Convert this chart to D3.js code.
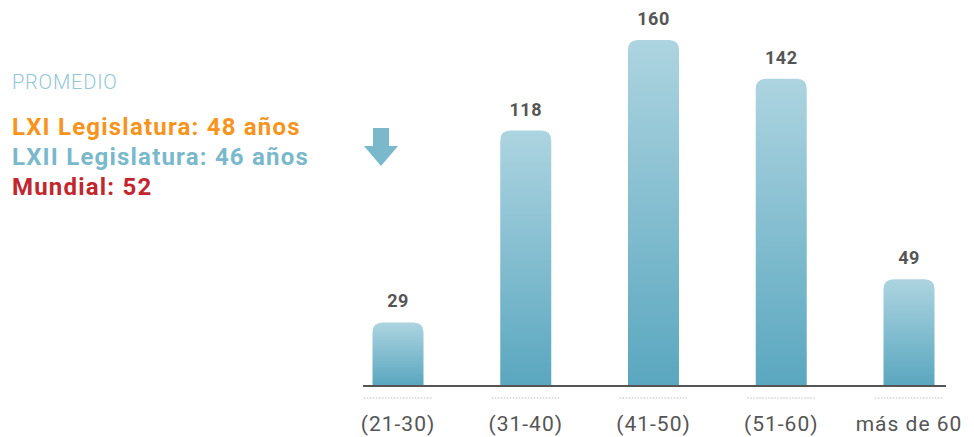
<!DOCTYPE html>
<html>
<head>
<meta charset="utf-8">
<script src="https://cdn.jsdelivr.net/npm/d3@7"></script>
<style>
  body { margin: 0; background: #fff; }
  text { font-family: Roboto, "DejaVu Sans", sans-serif; }
</style>
</head>
<body>
<svg id="chart"></svg>
<script>
var width = 974;
var height = 437;

// datos
var categories = ["(21-30)", "(31-40)", "(41-50)", "(51-60)", "más de 60"];
var values = [29, 118, 160, 142, 49];
var legendLines = [
  { text: "LXI Legislatura: 48 años", color: "#f7941d" },
  { text: "LXII Legislatura: 46 años", color: "#7ab8cc" },
  { text: "Mundial: 52", color: "#c1272d" }
];

var baseline = 385;
var plotTop = 40;

var svg = d3.select("#chart")
    .attr("width", width)
    .attr("height", height);

var defs = svg.append("defs");
var grad = defs.append("linearGradient")
    .attr("id", "barGrad")
    .attr("x1", 0).attr("y1", 0)
    .attr("x2", 0).attr("y2", 1);
grad.append("stop").attr("offset", "0%").attr("stop-color", "#add4e0");
grad.append("stop").attr("offset", "100%").attr("stop-color", "#5aa7bf");

var xScale = d3.scalePoint()
    .domain(categories)
    .range([398, 909]);

var yScale = d3.scaleLinear()
    .domain([0, d3.max(values)])
    .range([baseline, plotTop]);

var barWidth = 51;
var r = 10;

function barPath(d, i) {
  var cx = xScale(categories[i]);
  var x0 = cx - barWidth / 2, x1 = cx + barWidth / 2;
  var y0 = yScale(d);
  return "M" + x0 + "," + baseline +
    "V" + (y0 + r) +
    "Q" + x0 + "," + y0 + " " + (x0 + r) + "," + y0 +
    "H" + (x1 - r) +
    "Q" + x1 + "," + y0 + " " + x1 + "," + (y0 + r) +
    "V" + baseline + "Z";
}

var bars = svg.selectAll(".bar")
    .data(values)
    .enter()
    .append("g")
      .classed("bar", true);

bars.append("path")
    .attr("d", barPath)
    .attr("fill", "url(#barGrad)");

bars.append("text")
    .attr("x", (d, i) => xScale(categories[i]))
    .attr("y", d => yScale(d) - 15)
    .attr("text-anchor", "middle")
    .attr("font-size", 18)
    .attr("font-weight", "bold")
    .attr("letter-spacing", 0.5)
    .attr("fill", "#555")
    .text(d => d);

// eje
svg.append("line")
    .attr("x1", 363).attr("x2", 946)
    .attr("y1", baseline + 1).attr("y2", baseline + 1)
    .attr("stroke", "#555")
    .attr("stroke-width", 2);

var labels = svg.selectAll(".cat")
    .data(categories)
    .enter()
    .append("g")
      .classed("cat", true);

labels.append("line")
    .attr("x1", d => xScale(d) - 34)
    .attr("x2", d => xScale(d) + 34)
    .attr("y1", 398).attr("y2", 398)
    .attr("stroke", "#bbb")
    .attr("stroke-width", 1)
    .attr("stroke-dasharray", "1.5,1.5");

labels.append("text")
    .attr("x", d => xScale(d))
    .attr("y", 431)
    .attr("text-anchor", "middle")
    .attr("font-size", 21)
    .attr("letter-spacing", 1)
    .attr("fill", "#555")
    .text(d => d);

// leyenda
svg.append("text")
    .attr("x", 12).attr("y", 89)
    .attr("font-size", 20)
    .attr("font-weight", 300)
    .attr("letter-spacing", 0.8)
    .attr("fill", "#93c6d6")
    .text("PROMEDIO");

svg.selectAll(".legend")
    .data(legendLines)
    .enter()
    .append("text")
      .classed("legend", true)
      .attr("x", 12)
      .attr("y", (d, i) => 135 + i * 30)
      .attr("font-size", 24)
      .attr("font-weight", "bold")
      .attr("letter-spacing", 1.2)
      .attr("fill", d => d.color)
      .text(d => d.text);

// flecha
svg.append("path")
    .attr("d", "M373,128H389V146H398L381,166L364,146H373Z")
    .attr("fill", "#7ab8cc");
</script>
</body>
</html>
